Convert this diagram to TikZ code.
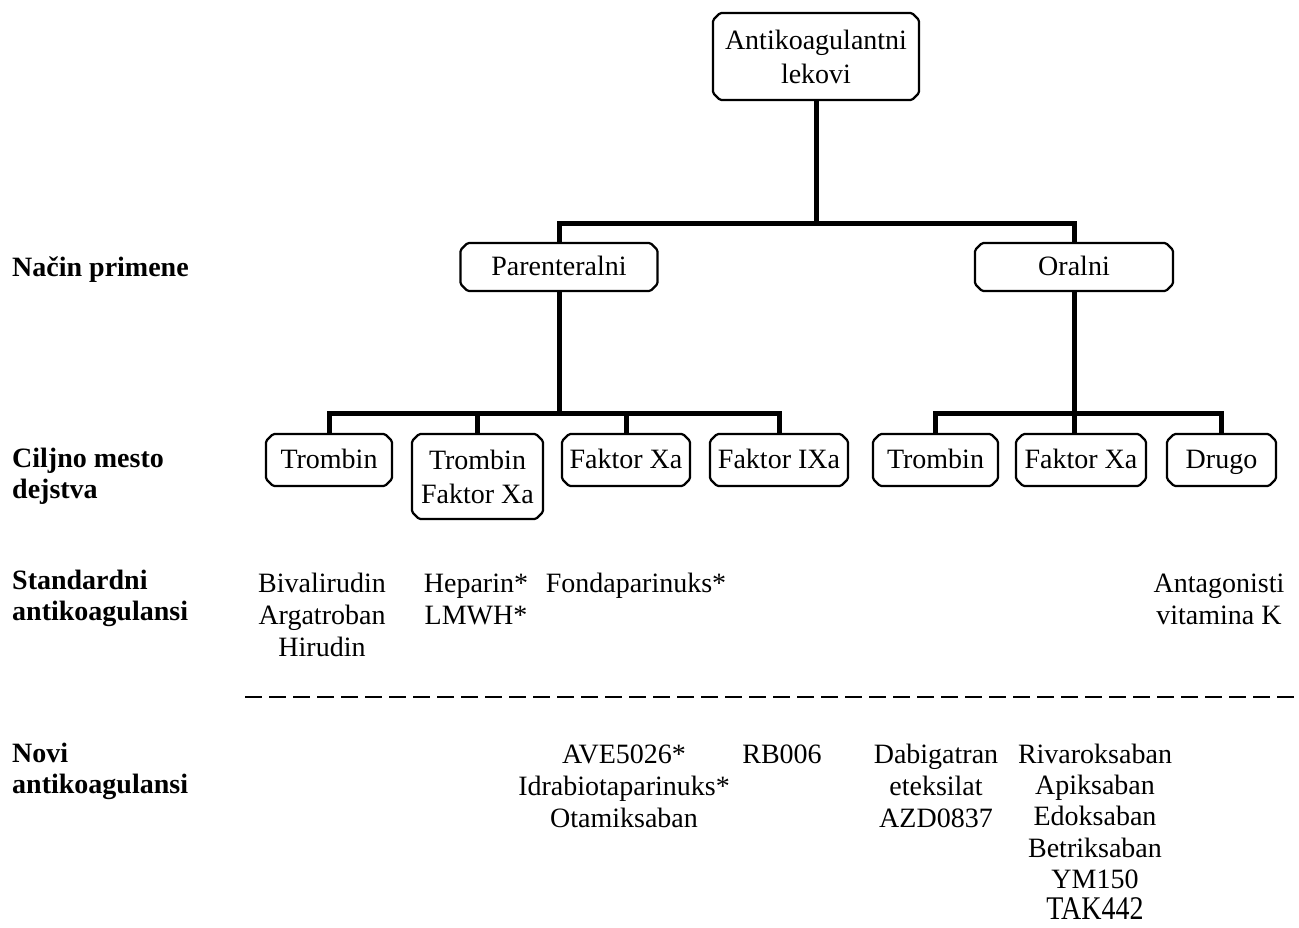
\documentclass[tikz,border=0pt]{standalone}
\usepackage{fontspec}
\setmainfont{Liberation Serif}
\usepackage{graphicx}
\usetikzlibrary{shapes.misc}
\newcommand{\fstrut}{\rule{0pt}{20pt}}
\tikzset{
  x=1pt, y=-1pt,
  box/.style={draw, line width=2.2pt, chamfered rectangle, chamfered rectangle xsep=3.5pt,
    chamfered rectangle ysep=3.5pt, rounded corners=1.5pt, inner sep=0pt, align=center,
    font=\fontsize{28}{34}\selectfont},
  onebox/.style={box, text height=20pt, text depth=4pt},
  conn/.style={line width=5pt},
  txt/.style={inner sep=0pt, align=center, anchor=north, font=\fontsize{28}{32}\selectfont},
  lbl/.style={inner sep=0pt, align=left, anchor=north west, font=\fontsize{28}{31}\selectfont\bfseries},
  sep/.style={line width=2.5pt, dash pattern=on 17pt off 7pt}
}
\begin{document}
\begin{tikzpicture}
\useasboundingbox (0,0) rectangle (1299,927);
% boxes
\node[box, minimum width=206pt, minimum height=87pt] (top) at (816,56.5) {Antikoagulantni\\lekovi};
\node[onebox, minimum width=197pt, minimum height=48pt] (par) at (559,267) {Parenteralni};
\node[onebox, minimum width=198pt, minimum height=48pt] (ora) at (1074,267) {Oralni};
\node[onebox, minimum width=126pt, minimum height=52pt] (t1) at (329,460) {Trombin};
\node[box, minimum width=131pt, minimum height=85pt] (t2) at (477.5,476.5) {Trombin\\Faktor Xa};
\node[onebox, minimum width=128pt, minimum height=52pt] (f1) at (626,460) {Faktor Xa};
\node[onebox, minimum width=138pt, minimum height=52pt] (f2) at (779,460) {Faktor IXa};
\node[onebox, minimum width=125pt, minimum height=52pt] (t3) at (935.5,460) {Trombin};
\node[onebox, minimum width=130pt, minimum height=52pt] (f3) at (1081,460) {Faktor Xa};
\node[onebox, minimum width=109pt, minimum height=52pt] (d1) at (1221.5,460) {Drugo};
% bus coordinates
\coordinate (b0) at (816,223);
\coordinate (b1) at (559,413);
\coordinate (b2) at (1074,413);
% connectors
\draw[conn] (top.south) -- (top.south |- b0);
\draw[conn] (par.north) |- (b0) -| (ora.north);
\draw[conn] (par.south) -- (par.south |- b1);
\draw[conn] (t1.north) |- (b1) -| (f2.north);
\draw[conn] (t2.north) -- (t2.north |- b1);
\draw[conn] (f1.north) -- (f1.north |- b1);
\draw[conn] (ora.south) -- (ora.south |- f3.north);
\draw[conn] (t3.north) |- (b2) -| (d1.north);
% row labels
\node[lbl] (nac) at (12,257) {Način primene};
\node[lbl] (cil) at (12,448) {Ciljno mesto\\dejstva};
\node[lbl] (std) at (12,570) {Standardni\\antikoagulansi};
\node[lbl] (novi) at (12,743) {Novi\\antikoagulansi};
% standard drugs
\node[txt] (biv) at (322,572) {\fstrut Bivalirudin\\Argatroban\\Hirudin};
\node[txt] (hep) at (476,572) {\fstrut Heparin*\\LMWH*};
\node[txt] (fon) at (636,572) {\fstrut Fondaparinuks*};
\node[txt] (ant) at (1219,572) {\fstrut Antagonisti\\vitamina K};
% separator
\coordinate (s1) at (245,697);
\coordinate (s2) at (1294,697);
\draw[sep] (s1) -- (s2);
% new drugs
\node[txt] (ave) at (624,743) {\fstrut AVE5026*\\Idrabiotaparinuks*\\Otamiksaban};
\node[txt] (rb) at (782,743) {\fstrut RB006};
\node[txt] (dab) at (936,743) {\fstrut Dabigatran\\eteksilat\\AZD0837};
\node[txt, font=\fontsize{28}{31.3}\selectfont] (riv) at (1095,743) {\fstrut Rivaroksaban\\Apiksaban\\Edoksaban\\Betriksaban\\YM150\\\scalebox{1}[1.18]{TAK442}};
\end{tikzpicture}
\end{document}
